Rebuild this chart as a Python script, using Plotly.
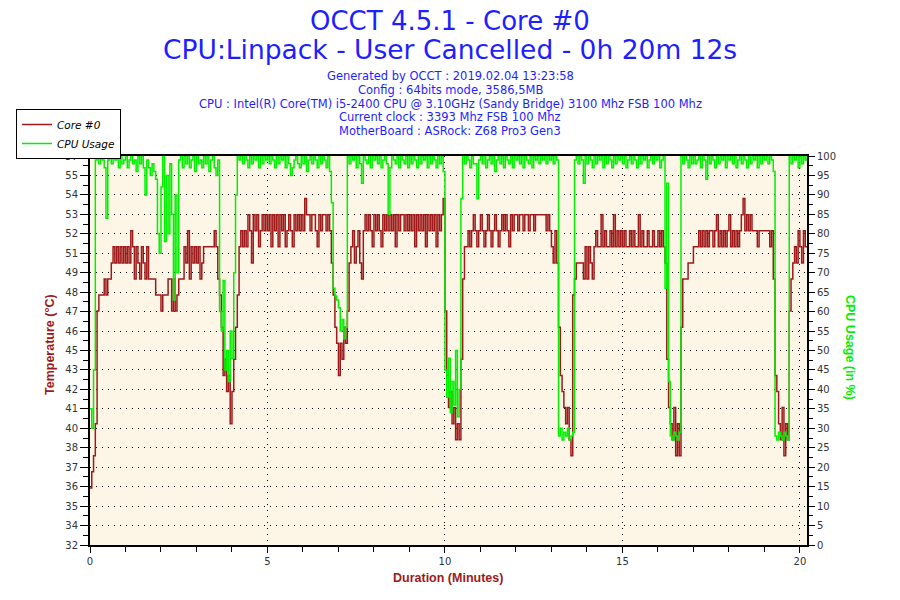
import plotly.graph_objects as go

# OCCT log: Core #0 temperature and CPU usage, one sample every 3 s
DURATION_MIN = 20.2
SAMPLE_STEP = 0.05  # minutes

CORE0_TEMP = [
    36, 37, 38, 40, 47, 48, 48, 48, 49, 48, 49, 49, 50, 51, 50, 51, 50, 51, 50, 51,
    50, 51, 50, 52, 51, 49, 51, 50, 49, 51, 50, 49, 51, 49, 49, 49, 49, 48, 48, 48,
    47, 48, 48, 48, 49, 49, 47, 49, 47, 48, 49, 49, 49, 51, 50, 52, 49, 51, 50, 51,
    50, 51, 49, 50, 51, 51, 51, 51, 51, 51, 52, 51, 49, 48, 46, 43, 44, 42, 43, 40,
    42, 44, 46, 48, 51, 52, 51, 52, 51, 53, 52, 50, 53, 52, 53, 51, 52, 53, 52, 53,
    52, 53, 51, 53, 52, 53, 51, 53, 52, 53, 51, 52, 53, 52, 51, 53, 52, 53, 52, 53,
    52, 54, 53, 53, 52, 53, 53, 52, 51, 53, 52, 53, 53, 52, 53, 52, 50, 48, 46, 45,
    43, 45, 44, 46, 45, 47, 50, 51, 52, 50, 51, 52, 50, 49, 52, 53, 52, 53, 52, 51,
    53, 52, 53, 52, 51, 53, 52, 53, 52, 53, 52, 53, 51, 53, 52, 53, 53, 52, 53, 52,
    53, 52, 53, 51, 53, 52, 53, 52, 53, 51, 53, 52, 53, 52, 53, 51, 53, 52, 53, 54,
    47, 43, 41, 42, 40, 41, 39, 40, 39, 44, 49, 51, 51, 52, 51, 52, 53, 52, 51, 52,
    53, 52, 51, 52, 53, 52, 51, 52, 53, 52, 51, 52, 53, 52, 53, 52, 51, 53, 52, 53,
    53, 52, 53, 53, 52, 53, 53, 52, 53, 53, 52, 53, 53, 53, 53, 53, 53, 52, 53, 52,
    51, 50, 52, 50, 46, 43, 42, 41, 40, 41, 39, 38, 48, 49, 50, 50, 50, 50, 49, 51,
    49, 51, 50, 49, 51, 52, 51, 51, 53, 51, 52, 51, 51, 52, 51, 53, 51, 52, 51, 52,
    51, 52, 51, 51, 52, 51, 52, 51, 51, 53, 51, 52, 51, 51, 52, 51, 51, 52, 51, 51,
    52, 51, 52, 51, 50, 44, 41, 40, 39, 41, 38, 40, 38, 46, 49, 49, 49, 50, 50, 50,
    51, 51, 51, 52, 51, 52, 51, 52, 51, 52, 52, 51, 52, 53, 51, 52, 51, 52, 51, 52,
    53, 51, 52, 51, 52, 51, 52, 53, 54, 52, 53, 52, 53, 52, 52, 52, 51, 52, 52, 52,
    52, 52, 52, 51, 52, 49, 43, 42, 40, 39, 41, 38, 40, 39, 47, 49, 50, 51, 50, 52,
    51, 50, 52, 51, 51,
]

CPU_USAGE = [
    35, 30, 45, 99, 100, 98, 100, 99, 97, 84, 99, 100, 98, 100, 99, 100, 97, 100, 98, 99,
    100, 97, 99, 100, 98, 99, 96, 100, 98, 100, 97, 90, 99, 97, 95, 98, 96, 94, 80, 75,
    92, 100, 78, 95, 80, 98, 85, 63, 90, 70, 99, 100, 97, 100, 98, 100, 97, 99, 100, 96,
    100, 98, 99, 97, 100, 98, 100, 96, 99, 100, 97, 95, 99, 60, 55, 68, 45, 50, 42, 55,
    48, 70, 90, 100, 99, 100, 98, 100, 99, 97, 100, 98, 100, 99, 100, 97, 100, 98, 100, 99,
    100, 98, 100, 99, 97, 100, 98, 100, 99, 100, 97, 100, 98, 95, 97, 99, 100, 98, 97, 100,
    98, 100, 96, 99, 100, 98, 100, 99, 97, 100, 98, 100, 99, 97, 100, 96, 88, 66, 64, 63,
    61, 55, 58, 53, 56, 100, 98, 100, 99, 100, 97, 100, 98, 93, 100, 99, 98, 100, 97, 100,
    99, 100, 98, 100, 97, 99, 100, 98, 85, 97, 100, 99, 98, 100, 97, 100, 99, 98, 100, 97,
    100, 98, 100, 99, 97, 100, 98, 100, 99, 100, 97, 100, 98, 100, 99, 97, 100, 98, 100, 96,
    45, 38, 48, 34, 42, 36, 50, 33, 40, 89, 100, 98, 100, 99, 97, 100, 98, 98, 89, 99,
    100, 98, 100, 97, 99, 100, 98, 100, 96, 99, 100, 98, 100, 97, 100, 99, 98, 100, 97, 100,
    99, 100, 98, 100, 97, 100, 99, 98, 100, 97, 100, 99, 100, 98, 100, 99, 100, 98, 100, 99,
    100, 98, 100, 99, 28, 30, 27, 29, 28, 30, 27, 28, 29, 99, 100, 98, 100, 99, 93, 100,
    98, 100, 99, 97, 100, 98, 100, 99, 100, 97, 100, 98, 100, 99, 97, 100, 98, 100, 99, 100,
    98, 100, 97, 99, 100, 98, 100, 99, 97, 100, 98, 100, 99, 100, 97, 99, 100, 98, 100, 99,
    100, 97, 99, 100, 66, 93, 42, 28, 27, 29, 28, 27, 29, 100, 98, 100, 99, 97, 100, 98,
    100, 98, 99, 100, 97, 100, 99, 94, 100, 98, 100, 99, 97, 100, 98, 100, 99, 100, 97, 100,
    99, 100, 98, 100, 97, 99, 100, 98, 100, 99, 97, 100, 98, 100, 99, 100, 97, 100, 98, 100,
    99, 100, 98, 100, 99, 96, 28, 27, 29, 28, 27, 29, 28, 27, 100, 98, 100, 99, 100, 97,
    100, 98, 100, 99, 100,
]

TIME_TICKS = [0, 5, 10, 15, 20]
CPU_TICKS = list(range(0, 101, 5))
# left scale is OCCT's rescaled temperature axis, labels as printed
TEMP_LO, TEMP_HI = 32.45, 56.65
TEMP_TICK_LABELS = ["32", "34", "35", "36", "37", "38", "40", "41", "42", "43", "45",
                    "46", "47", "48", "49", "51", "52", "53", "54", "55", "57"]

HEADER = [
    ("OCCT 4.5.1 - Core #0", 26, 21),
    ("CPU:Linpack - User Cancelled - 0h 20m 12s", 26.5, 50),
    ("Generated by OCCT : 2019.02.04 13:23:58", 11.5, 76),
    ("Config : 64bits mode, 3586,5MB", 11.5, 90),
    ("CPU : Intel(R) Core(TM) i5-2400 CPU @ 3.10GHz (Sandy Bridge) 3100 Mhz FSB 100 Mhz", 11.5, 104),
    ("Current clock : 3393 Mhz FSB 100 Mhz", 11.5, 117),
    ("MotherBoard : ASRock: Z68 Pro3 Gen3", 11.5, 131),
]

RED = "#9E1A1A"
GREEN = "#00F000"
BLUE = "#1E1EFF"
FONT = "DejaVu Sans"
TITLE_FONT = "Liberation Sans"

# page body keeps an 8px margin, so the figure is drawn 8px smaller
PAGE_PAD = 8
W, H = 900 - PAGE_PAD, 600 - PAGE_PAD
REF_L, REF_T = 90, 156          # plot corner in the window
plot_w, plot_h = 717, 389
M_L, M_T = REF_L - PAGE_PAD, REF_T - PAGE_PAD
M_R, M_B = W - M_L - plot_w, H - M_T - plot_h


def px_x(px):
    return (px - REF_L) / plot_w


def px_y(py):
    return (REF_T + plot_h - py) / plot_h


minutes = [i * SAMPLE_STEP for i in range(len(CORE0_TEMP))]
n_ticks = len(TEMP_TICK_LABELS) - 1
temp_tickvals = [TEMP_LO + (TEMP_HI - TEMP_LO) * k / n_ticks for k in range(n_ticks + 1)]

fig = go.Figure()
fig.add_trace(go.Scatter(x=minutes, y=CORE0_TEMP, name="Core #0", mode="lines",
                         line=dict(color=RED, width=1.5, shape="hv"), yaxis="y"))
fig.add_trace(go.Scatter(x=minutes, y=CPU_USAGE, name="CPU Usage", mode="lines",
                         line=dict(color=GREEN, width=1.5, shape="hv"), yaxis="y2"))

tick_font = dict(family=FONT, size=10, color="#333333")
dotted = "1px,5px"

fig.update_layout(
    width=W, height=H,
    margin=dict(l=M_L, r=M_R, t=M_T, b=M_B, autoexpand=False),
    paper_bgcolor="white",
    plot_bgcolor="#FDF6E7",
    font=dict(family=FONT),
    showlegend=True,
    legend=dict(
        xref="container", yref="container",
        x=(16 - PAGE_PAD) / W, y=1 - (134 - PAGE_PAD) / H,
        xanchor="left", yanchor="middle",
        bgcolor="white", bordercolor="black", borderwidth=1,
        font=dict(family=FONT, size=10.5, style="italic", color="black"),
        itemwidth=30, tracegroupgap=0,
    ),
    xaxis=dict(
        range=[0, DURATION_MIN], tickvals=TIME_TICKS,
        ticks="outside", ticklen=6, tickcolor="black",
        showline=True, linecolor="black", linewidth=2, mirror=True,
        showgrid=True, gridcolor="black", gridwidth=1, griddash=dotted,
        zeroline=False, tickfont=tick_font,
        minor=dict(dtick=1, ticks="outside", ticklen=5, tickcolor="black", showgrid=False),
    ),
    yaxis=dict(
        range=[TEMP_LO, TEMP_HI], tickvals=temp_tickvals, ticktext=TEMP_TICK_LABELS,
        ticks="outside", ticklen=8, tickcolor="black",
        showline=True, linecolor="black", linewidth=2,
        showgrid=True, gridcolor="black", gridwidth=1, griddash=dotted,
        zeroline=False, tickfont=tick_font,
        minor=dict(tick0=TEMP_LO, dtick=(TEMP_HI - TEMP_LO) / n_ticks / 2,
                   ticks="outside", ticklen=5, tickcolor="black", showgrid=False),
    ),
    yaxis2=dict(
        overlaying="y", side="right", range=[0, 100], tickvals=CPU_TICKS,
        ticks="outside", ticklen=6, tickcolor="black",
        showline=True, linecolor="black", linewidth=2,
        showgrid=False, zeroline=False, tickfont=tick_font,
        minor=dict(dtick=2.5, ticks="outside", ticklen=4, tickcolor="black"),
    ),
)

for text, size, py in HEADER:
    fig.add_annotation(text=text, xref="paper", yref="paper",
                       x=px_x(450), y=px_y(py),
                       xanchor="center", yanchor="middle", showarrow=False,
                       font=dict(family=FONT, size=size, color=BLUE))

# axis titles placed as in the OCCT image
axis_titles = [
    ("Duration (Minutes)", 0, 448, 578, RED),
    ("Temperature (°C)", -90, 50, 345, RED),
    ("CPU Usage (in %)", 90, 850, 347, GREEN),
]
for text, angle, px, py, color in axis_titles:
    fig.add_annotation(text=text, textangle=angle, xref="paper", yref="paper",
                       x=px_x(px), y=px_y(py),
                       xanchor="center", yanchor="middle", showarrow=False,
                       font=dict(family=TITLE_FONT, size=12.5, color=color, weight="bold"))

fig.write_html("out.html")
